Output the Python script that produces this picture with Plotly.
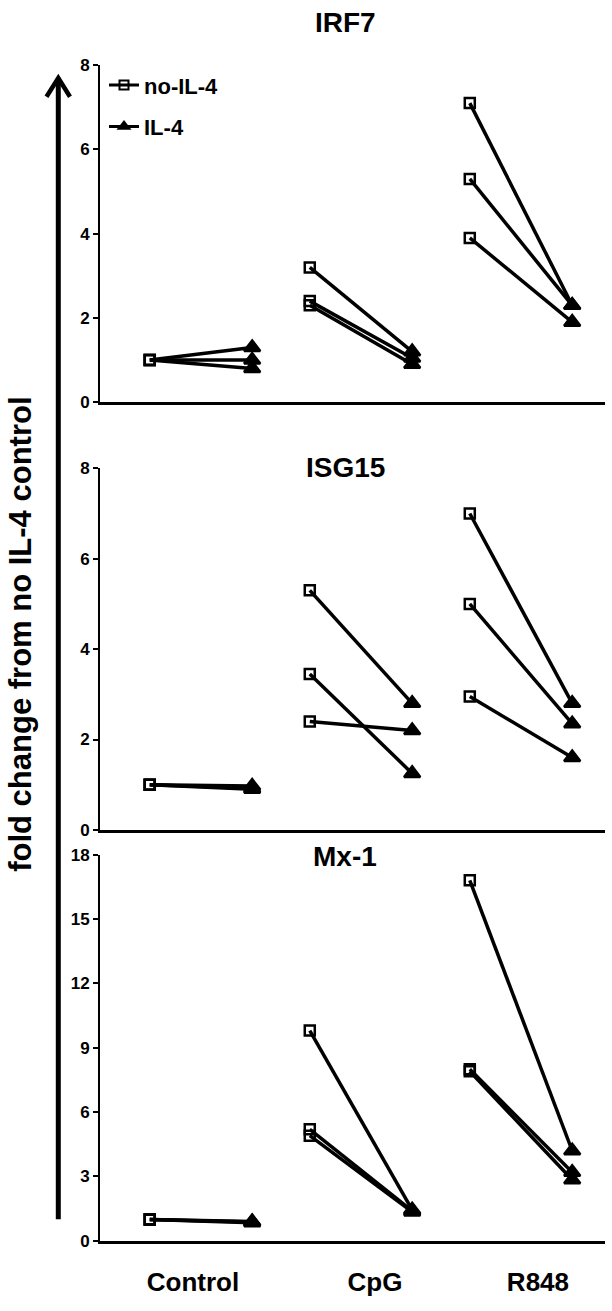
import plotly.graph_objects as go

W, H = 612, 1311

# ---------------- data ----------------
groups = ["Control", "CpG", "R848"]
panel_titles = ["IRF7", "ISG15", "Mx-1"]
series_names = ["no-IL-4", "IL-4"]

# values per panel, per group, per donor (no-IL-4 -> IL-4)
irf7_no_il4 = [[1.0, 1.0, 1.0], [3.2, 2.4, 2.3], [7.1, 5.3, 3.9]]
irf7_il4 = [[1.3, 1.0, 0.8], [1.2, 1.05, 0.9], [2.3, 2.3, 1.9]]

isg15_no_il4 = [[1.0, 1.0, 1.0], [5.3, 3.45, 2.4], [7.0, 5.0, 2.95]]
isg15_il4 = [[0.97, 0.92, 0.9], [2.8, 1.25, 2.2], [2.8, 2.35, 1.6]]

mx1_no_il4 = [[1.0, 1.0, 1.0], [9.8, 5.2, 4.9], [16.8, 8.0, 7.9]]
mx1_il4 = [[0.9, 0.88, 0.85], [1.45, 1.4, 1.35], [4.2, 3.2, 2.85]]

y_ticks = [[0, 2, 4, 6, 8], [0, 2, 4, 6, 8], [0, 3, 6, 9, 12, 15, 18]]
y_ranges = [[0, 8], [0, 8], [0, 18]]

# ---------------- layout helpers ----------------
def px_x(p):
    return p / W

def px_y(p):
    return 1 - p / H

FONT = "Liberation Sans, Arial, sans-serif"
pair_offset = 0.32
x_range = [-0.631, 2.525]
label_shift = [-0.05, 0.0875, 0.106]  # where the category labels sit relative to group centres

panel_px = [(57, 399), (466, 833), (858, 1250)]
title_px = [14, 465, 860]
data = [(irf7_no_il4, irf7_il4), (isg15_no_il4, isg15_il4), (mx1_no_il4, mx1_il4)]

fig = go.Figure()

for p, (no_il4, il4) in enumerate(data):
    xa = "x" if p == 0 else f"x{p+1}"
    ya = "y" if p == 0 else f"y{p+1}"
    for g in range(len(groups)):
        for d in range(len(no_il4[g])):
            fig.add_trace(go.Scatter(
                x=[g - pair_offset, g + pair_offset],
                y=[no_il4[g][d], il4[g][d]],
                mode="lines+markers",
                line=dict(color="black", width=3.5),
                marker=dict(symbol=["square-open", "triangle-up"], size=[10, 14],
                            opacity=1, color="black",
                            line=dict(color="black", width=2.5)),
                xaxis=xa, yaxis=ya, showlegend=False, cliponaxis=False,
                hoverinfo="skip",
            ))

# legend entries
fig.add_trace(go.Scatter(x=[None], y=[None], mode="lines+markers", name=series_names[0],
                         line=dict(color="black", width=3),
                         marker=dict(symbol="square-open", size=9, color="black",
                                     line=dict(color="black", width=2)),
                         legendgroup="a"))
fig.add_trace(go.Scatter(x=[None], y=[None], mode="lines+markers", name=series_names[1],
                         line=dict(color="black", width=3),
                         marker=dict(symbol="triangle-up", size=13, color="black"),
                         legendgroup="b"))

layout = dict(
    width=W, height=H,
    margin=dict(l=0, r=0, t=0, b=0),
    paper_bgcolor="white", plot_bgcolor="white",
    font=dict(family=FONT, color="black"),
    showlegend=True,
    legend=dict(x=px_x(104), y=px_y(56), xanchor="left", yanchor="top",
                bgcolor="rgba(0,0,0,0)", font=dict(size=22, family=FONT, weight="bold"),
                itemwidth=30, tracegroupgap=10),
)

annotations = []
for p in range(3):
    xk = "xaxis" if p == 0 else f"xaxis{p+1}"
    yk = "yaxis" if p == 0 else f"yaxis{p+1}"
    top, bot = panel_px[p]
    ya = "y" if p == 0 else f"y{p+1}"
    xa = "x" if p == 0 else f"x{p+1}"
    xdict = dict(domain=[px_x(100), px_x(605)], range=x_range, anchor=ya,
                 showline=True, linecolor="black", linewidth=2.5,
                 showgrid=False, zeroline=False, fixedrange=True)
    if p == 2:
        xdict.update(tickvals=[g + s for g, s in zip(range(len(groups)), label_shift)],
                     ticktext=groups, ticks="outside", ticklen=16,
                     tickcolor="rgba(0,0,0,0)",
                     tickfont=dict(size=26, family=FONT, weight="bold", color="black"))
    else:
        xdict.update(showticklabels=False, ticks="")
    layout[xk] = xdict
    layout[yk] = dict(domain=[px_y(bot), px_y(top)], range=y_ranges[p], anchor=xa,
                      tickvals=y_ticks[p], ticks="outside", ticklen=5, tickwidth=2,
                      tickcolor="black", showline=True, linecolor="black", linewidth=2,
                      showgrid=False, zeroline=False, fixedrange=True,
                      tickfont=dict(size=17, family=FONT, weight="bold", color="black"))
    annotations.append(dict(text=panel_titles[p], x=px_x(345), y=px_y(title_px[p]),
                            xref="paper", yref="paper", showarrow=False,
                            xanchor="center", yanchor="middle",
                            font=dict(size=28, family=FONT, weight="bold", color="black")))

annotations.append(dict(text="fold change from no IL-4 control", x=px_x(21), y=px_y(635),
                        xref="paper", yref="paper", showarrow=False, textangle=-90,
                        xanchor="center", yanchor="middle",
                        font=dict(size=31, family=FONT, weight="bold", color="black")))
layout["annotations"] = annotations

# big arrow along the left side
ax = 58.3
shapes = [
    dict(type="line", xref="paper", yref="paper", x0=px_x(ax), x1=px_x(ax),
         y0=px_y(1228), y1=px_y(72), line=dict(color="black", width=5)),
    dict(type="path", xref="paper", yref="paper",
         path=f"M {px_x(46.5)},{px_y(89)} L {px_x(ax)},{px_y(70)} L {px_x(70)},{px_y(89)}",
         line=dict(color="black", width=4.5)),
]
layout["shapes"] = shapes

fig.update_layout(**layout)
fig.write_html("out.html", config={"displayModeBar": False},
               post_script="document.body.style.margin='0';document.body.style.padding='0';")
